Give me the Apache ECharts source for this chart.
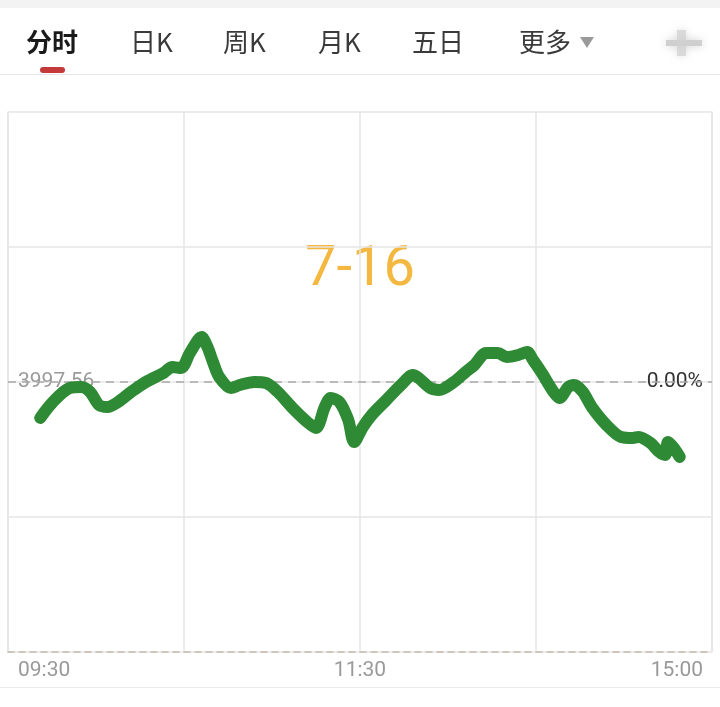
<!DOCTYPE html>
<html>
<head>
<meta charset="utf-8">
<script src="https://cdn.jsdelivr.net/npm/echarts@6/dist/echarts.min.js"></script>
<style>
html,body{margin:0;padding:0;background:#fff;}
#chart{width:720px;height:707px;}
</style>
</head>
<body>
<div id="chart"></div>
<script>
// ---- data ----
const tabs = ['分时', '日K', '周K', '月K', '五日', '更多'];
const dateLabel = '7-16';
const prevClose = 3997.56;
const timeLabels = ['09:30', '11:30', '15:00'];
// minutes since 09:30 (trading minutes, lunch break removed)
const minutes = [11, 15, 21, 25, 28, 31, 34, 37, 42, 47, 53, 56, 59, 62, 66, 68, 70, 72, 76, 79,
  84, 88, 92, 97, 102, 105, 108, 110, 113, 116, 118, 121, 124, 129, 134, 138, 140, 144, 147, 152,
  156, 159, 163, 167, 170, 174, 177, 179, 182, 186, 188, 191, 193, 196, 199, 204, 209, 213, 215, 219,
  222, 224, 225, 227, 229];
const prices = [3992.23, 3994.45, 3996.67, 3996.82, 3996.08, 3994.16, 3993.86, 3994.45, 3996.08, 3997.56,
  3998.89, 3999.78, 3999.63, 4001.85, 4004.22, 4002.74, 4000.37, 3998.30, 3996.67, 3997.12,
  3997.56, 3997.41, 3996.08, 3993.71, 3991.64, 3990.75, 3993.86, 3995.19, 3994.60, 3991.94,
  3988.68, 3990.90, 3992.68, 3994.90, 3997.12, 3998.60, 3998.15, 3996.67, 3996.38, 3997.56,
  3999.04, 4000.08, 4001.85, 4001.85, 4001.26, 4001.56, 4002.00, 4000.82, 3998.89, 3996.08,
  3995.19, 3996.82, 3997.12, 3996.08, 3993.86, 3991.20, 3989.42, 3989.27, 3989.42, 3988.53,
  3987.20, 3986.76, 3988.68, 3987.79, 3986.46];

const range = 40;
const yMin = prevClose - range, yMax = prevClose + range;
const seriesData = minutes.map((m, i) => [m, prices[i]]);

const chart = echarts.init(document.getElementById('chart'), null, {renderer: 'canvas'});
const fontCN = '"Noto Sans CJK SC", "Noto Sans", sans-serif';
const tabX = [26, 130, 223, 318, 412, 519];
const graphics = [
  {type: 'rect', shape: {x: 0, y: 0, width: 720, height: 8}, style: {fill: '#f3f3f3'}},
  {type: 'rect', shape: {x: 0, y: 74, width: 720, height: 1}, style: {fill: '#e6e6e6'}},
  {type: 'rect', shape: {x: 40, y: 67, width: 25, height: 6, r: 3}, style: {fill: '#c43a3a'}},
  {type: 'rect', shape: {x: 0, y: 687, width: 720, height: 1}, style: {fill: '#ececec'}},
  {type: 'rect', shape: {x: 666, y: 40, width: 36, height: 6}, style: {fill: '#c8c8c8', shadowBlur: 8, shadowColor: '#c8c8c8', opacity: 0.8}},
  {type: 'rect', shape: {x: 677, y: 30, width: 9, height: 26}, style: {fill: '#d0d0d0', shadowBlur: 8, shadowColor: '#d0d0d0', opacity: 0.7}},
  {type: 'text', left: 'center', top: 243, style: {text: dateLabel, fill: '#f4b73f', font: '400 56px Roboto, "Noto Sans", sans-serif'}}
];
tabs.forEach((t, i) => {
  graphics.push({
    type: 'text', x: tabX[i], y: 42,
    style: {
      text: t, fill: i === 0 ? '#1a1a1a' : '#3a3a3a',
      font: (i === 0 ? '700 ' : '400 ') + '26px ' + fontCN,
      verticalAlign: 'middle'
    }
  });
});
graphics.push({type: 'polygon', shape: {points: [[580, 37], [594, 37], [587, 48]]}, style: {fill: '#9a9a9a'}});

const option = {
  animation: false,
  backgroundColor: '#fff',
  grid: {left: 8, right: 8, top: 112, bottom: 55},
  graphic: graphics,
  xAxis: {
    type: 'value', min: 0, max: 240, interval: 60,
    axisLine: {show: true, lineStyle: {color: '#c4b8ab', type: [6, 5], width: 1.5}},
    axisTick: {show: false},
    splitLine: {show: true, lineStyle: {color: '#e6e6e6', width: 1.5}},
    axisLabel: {
      margin: 8,
      showMinLabel: true, showMaxLabel: true,
      alignMinLabel: 'left', alignMaxLabel: 'right',
      formatter: function (v) {
        if (v === 0) return '{l|' + timeLabels[0] + '}';
        if (v === 120) return '{c|' + timeLabels[1] + '}';
        if (v === 240) return '{r|' + timeLabels[2] + '}';
        return '';
      },
      rich: {
        l: {color: '#999', fontSize: 21, fontFamily: 'Roboto', padding: [0, 0, 0, 10]},
        c: {color: '#999', fontSize: 21, fontFamily: 'Roboto'},
        r: {color: '#999', fontSize: 21, fontFamily: 'Roboto', padding: [0, 9, 0, 0]}
      }
    }
  },
  yAxis: [{
    type: 'value', min: yMin, max: yMax, interval: 20,
    axisLine: {show: true, lineStyle: {color: '#e6e6e6', width: 1.5}},
    axisTick: {show: false},
    splitLine: {show: true, lineStyle: {color: '#e6e6e6', width: 1.5}},
    axisLabel: {
      inside: true, margin: 10, color: '#9a9a9a', fontSize: 21, fontFamily: 'Roboto',
      formatter: function (v) { return Math.abs(v - prevClose) < 0.01 ? prevClose.toFixed(2) : ''; }
    }
  }, {
    type: 'value', min: yMin, max: yMax, interval: 20, position: 'right',
    axisLine: {show: true, lineStyle: {color: '#e6e6e6', width: 1.5}},
    axisTick: {show: false},
    splitLine: {show: false},
    axisLabel: {
      inside: true, margin: 9, color: '#333', fontSize: 21, fontFamily: 'Roboto',
      formatter: function (v) { return Math.abs(v - prevClose) < 0.01 ? '0.00%' : ''; }
    }
  }],
  series: [{
    type: 'line',
    data: seriesData,
    smooth: 0.3,
    showSymbol: false,
    symbol: 'none',
    lineStyle: {color: '#2e8a34', width: 12, cap: 'round', join: 'round'},
    markLine: {
      silent: true, symbol: 'none', label: {show: false},
      lineStyle: {color: '#a9a9a9', type: [8, 6], width: 1.5},
      data: [{yAxis: prevClose}]
    },
    z: 5
  }]
};
chart.setOption(option);
</script>
</body>
</html>
